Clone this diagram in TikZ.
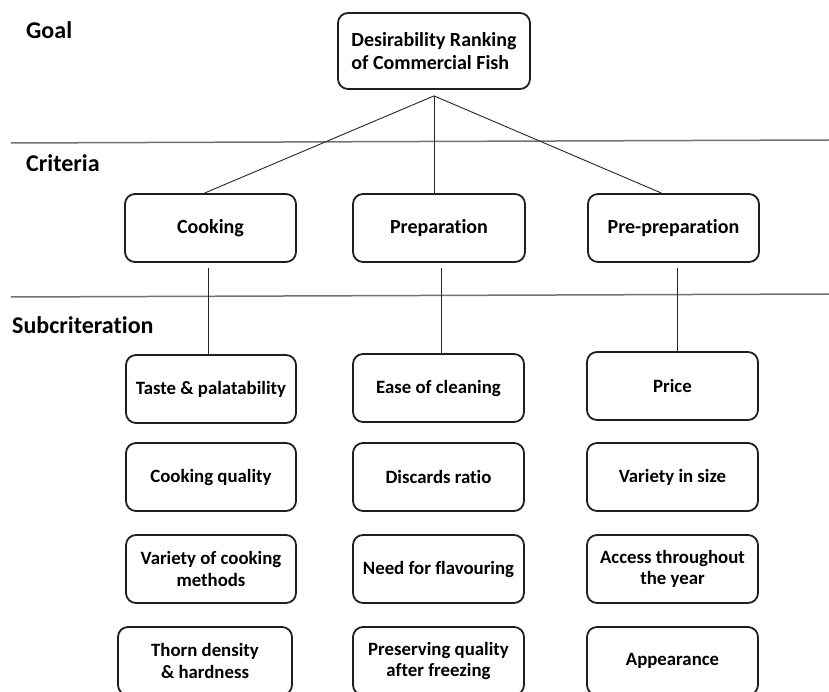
\documentclass[tikz,border=0pt]{standalone}
\usepackage{fontspec}
\setmainfont[Ligatures=NoCommon]{Carlito}
\begin{document}
\begin{tikzpicture}[x=1pt,y=-1pt,
  box/.style={draw=black!88, line width=1.8pt, rounded corners=10pt,
    font=\bfseries\fontsize{18.8}{21.5}\selectfont, align=center, inner sep=0pt,
    minimum width=171pt, minimum height=68pt},
  crit/.style={box, font=\bfseries\fontsize{20}{23}\selectfont},
  lev/.style={font=\bfseries\fontsize{24}{28}\selectfont, anchor=base west, inner sep=0pt},
  conn/.style={draw=black!85, line width=0.9pt},
  sep/.style={draw=black!55, line width=1.5pt}]
\clip (0,0) rectangle (829,692);
\fill[white] (0,0) rectangle (829,692);
% level labels
\node[lev] (lgoal) at (26,39) {Goal};
\node[lev] (lcrit) at (26,172) {Criteria};
\node[lev] (lsub) at (12,333) {Subcriteration};
% separators
\draw[sep] (11,143) -- (829,140);
\draw[sep] (11,297) -- (829,294);
% goal
\node[crit, minimum width=192pt, minimum height=76pt, align=left] (goal) at (434,51) {Desirability Ranking\\of Commercial Fish};
% criteria
\node[crit] (cook) at (210.5,228) {Cooking};
\node[crit, minimum width=172pt] (prep) at (439,228) {Preparation};
\node[crit] (pre) at (673.5,228) {Pre-preparation};
% subcriteria column 1
\node[box, minimum width=170pt] (taste) at (211,389) {Taste \& palatability};
\node[box, minimum width=170pt] (cq) at (211,477) {Cooking quality};
\node[box, minimum width=170pt] (vcm) at (211,569) {Variety of cooking\\methods};
\node[box, minimum width=174pt] (thorn) at (205,661) {Thorn density\\\& hardness};
% column 2
\node[box] (ease) at (438.5,388) {Ease of cleaning};
\node[box] (disc) at (438.5,477) {Discards ratio};
\node[box] (flav) at (438.5,569) {Need for flavouring};
\node[box] (pres) at (438.5,661) {Preserving quality\\after freezing};
% column 3
\node[box] (price) at (672.5,386) {Price};
\node[box] (vsize) at (672.5,477) {Variety in size};
\node[box] (access) at (672.5,569) {Access throughout\\the year};
\node[box] (appear) at (672.5,661) {Appearance};
% connectors
\coordinate (apex) at ([yshift=-6pt]goal.south);
\draw[conn] (apex) -- ([xshift=-6pt]cook.north);
\draw[conn] (apex) -- ([xshift=-5pt]prep.north);
\draw[conn] (apex) -- ([xshift=-12pt]pre.north);
\coordinate (c1) at ([xshift=-2.5pt,yshift=-5pt]cook.south);
\coordinate (c2) at ([xshift=2pt,yshift=-5pt]prep.south);
\coordinate (c3) at ([xshift=3.5pt,yshift=-5pt]pre.south);
\draw[conn] (c1) -- (c1 |- taste.north);
\draw[conn] (c2) -- (c2 |- ease.north);
\draw[conn] (c3) -- (c3 |- price.north);
\end{tikzpicture}
\end{document}
